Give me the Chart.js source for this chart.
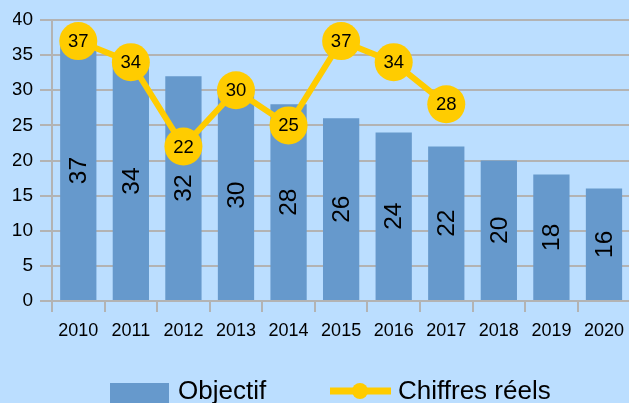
<!DOCTYPE html>
<html>
<head>
<meta charset="utf-8">
<script src="https://cdn.jsdelivr.net/npm/chart.js@4/dist/chart.umd.min.js"></script>
<style>
  html, body { margin: 0; padding: 0; background: #bbdeff; overflow: hidden; }
  #wrap { width: 632px; height: 403px; }
</style>
</head>
<body>
<div id="wrap"><canvas id="chart" width="632" height="403"></canvas></div>
<script>
// Données du graphique
const annees = ['2010', '2011', '2012', '2013', '2014', '2015', '2016', '2017', '2018', '2019', '2020'];
const objectif = [37, 34, 32, 30, 28, 26, 24, 22, 20, 18, 16];
const reels = [37, 34, 22, 30, 25, 37, 34, 28, null, null, null];
const yTicks = [0, 5, 10, 15, 20, 25, 30, 35, 40];

const COLORS = {
  fond:   '#bbdeff',
  barre:  '#6699cc',
  ligne:  '#ffcc00',
  grille: '#b3b3b3',
  texte:  '#000000',
};

const FONT = "'Liberation Sans', Arial, sans-serif";

// Étiquettes : verticales dans les barres, centrées dans les points
const etiquettes = {
  id: 'etiquettes',
  afterDatasetsDraw(chart) {
    const ctx = chart.ctx;
    ctx.save();
    ctx.fillStyle = COLORS.texte;
    ctx.textAlign = 'center';
    ctx.textBaseline = 'middle';

    chart.getDatasetMeta(0).data.forEach((bar, i) => {
      const y = (bar.y + bar.base) / 2;
      ctx.save();
      ctx.translate(bar.x, y);
      ctx.rotate(-Math.PI / 2);
      ctx.font = `24.5px ${FONT}`;
      ctx.fillText(String(objectif[i]), 0, 1);
      ctx.restore();
    });

    ctx.font = `18.5px ${FONT}`;
    chart.getDatasetMeta(1).data.forEach((pt, i) => {
      if (reels[i] == null) return;
      ctx.fillText(String(reels[i]), pt.x, pt.y + 1);
    });
    ctx.restore();
  },
};

// Légende dessinée à la main (coupée en bas comme l'original)
const legende = {
  id: 'legende',
  afterDraw(chart) {
    const ctx = chart.ctx;
    const yc = 391;
    ctx.save();
    ctx.fillStyle = COLORS.barre;
    ctx.fillRect(110, 383, 59, 30);

    ctx.strokeStyle = COLORS.ligne;
    ctx.lineWidth = 7;
    ctx.beginPath();
    ctx.moveTo(330, yc);
    ctx.lineTo(391, yc);
    ctx.stroke();
    ctx.fillStyle = COLORS.ligne;
    ctx.beginPath();
    ctx.arc(360, yc, 8, 0, Math.PI * 2);
    ctx.fill();

    ctx.fillStyle = COLORS.texte;
    ctx.font = `26px ${FONT}`;
    ctx.textBaseline = 'middle';
    ctx.textAlign = 'left';
    ctx.fillText('Objectif', 178, yc + 1);
    ctx.fillText('Chiffres réels', 398, yc + 1);
    ctx.restore();
  },
};

new Chart(document.getElementById('chart'), {
  type: 'bar',
  data: {
    labels: annees,
    datasets: [
      {
        type: 'bar',
        label: 'Objectif',
        data: objectif,
        backgroundColor: COLORS.barre,
        categoryPercentage: 1,
        barPercentage: 0.69,
        order: 2,
      },
      {
        type: 'line',
        label: 'Chiffres réels',
        data: reels,
        borderColor: COLORS.ligne,
        backgroundColor: COLORS.ligne,
        borderWidth: 6,
        pointRadius: 19,
        pointHoverRadius: 19,
        pointBorderWidth: 0,
        pointBackgroundColor: COLORS.ligne,
        tension: 0,
        fill: false,
        order: 1,
      },
    ],
  },
  options: {
    responsive: false,
    animation: false,
    events: [],
    layout: { autoPadding: false, padding: { left: 13, top: 20, right: 0, bottom: 63 } },
    plugins: {
      legend: { display: false },
      tooltip: { enabled: false },
    },
    scales: {
      x: {
        offset: true,
        grid: {
          offset: true,
          drawOnChartArea: false,
          drawTicks: true,
          tickLength: 11,
          color: COLORS.grille,
          lineWidth: 2,
        },
        border: { display: true, color: COLORS.grille, width: 2 },
        ticks: {
          color: COLORS.texte,
          font: { family: FONT, size: 18 },
          padding: 8,
          maxRotation: 0,
          autoSkip: false,
        },
        afterFit(s) { s.height = 39; },
      },
      y: {
        min: 0,
        max: 40,
        afterBuildTicks(s) { s.ticks = yTicks.map(v => ({ value: v })); },
        grid: {
          color: COLORS.grille,
          lineWidth: 2,
          tickLength: 12,
        },
        border: { display: true, color: COLORS.grille, width: 2 },
        ticks: {
          color: COLORS.texte,
          font: { family: FONT, size: 19 },
          padding: 7,
        },
        afterFit(s) { s.width = 39; },
      },
    },
  },
  plugins: [etiquettes, legende],
});
</script>
</body>
</html>
